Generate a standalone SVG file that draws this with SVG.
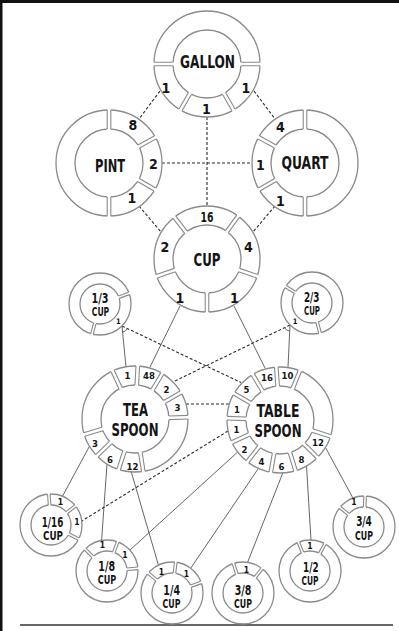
<svg xmlns="http://www.w3.org/2000/svg" xmlns:xlink="http://www.w3.org/1999/xlink" width="399" height="631" viewBox="0 0 399 631">
<style>
.ring{fill:#fff;stroke:#8a8a8a;stroke-width:1.3}
.sl{stroke:#8a8a8a;stroke-width:1.1;fill:none}
.t{font-family:"DejaVu Sans Condensed","DejaVu Sans",sans-serif;font-weight:bold;fill:#151515;text-anchor:middle}
.lbl{font-size:17.5px}
.n{font-size:14px}
.s{font-size:9.5px}
.f{font-size:14px}
.c{font-size:12px}
.x{font-size:8.5px}
.dash{stroke:#2a2a2a;stroke-width:1.1;stroke-dasharray:3 2;fill:none}
.ln{stroke:#555;stroke-width:0.9;fill:none}
</style>
<defs>
<g id="sepB"><rect x="33" y="-1.8" width="21.2" height="3.6" fill="#fff"/><path class="sl" d="M34,-1.8H53M34,1.8H53"/></g>
<g id="sepS"><rect x="19" y="-1.3" width="13.2" height="2.6" fill="#fff"/><path class="sl" d="M20,-1.3H31M20,1.3H31"/></g>
</defs>
<rect width="399" height="631" fill="#fff"/>
<path d="M0,1.5H399M1,0V631" stroke="#111" stroke-width="3"/>
<path d="M20,625H393" stroke="#333" stroke-width="1.5"/>

<g id="connectors">
<path class="dash" d="M160,91L139,119M254,91L275,119M207,117V206M162,163H252M139,206L161,232M275,206L253,232"/>
<path class="ln" d="M180,306L150,367M234,306L265,368"/>
<path class="ln" d="M122,326L126,367M290,325L288,367"/>
<path class="dash" d="M122,326L241,382.5M290,325L173,382M186,404H229"/>
<path class="ln" d="M122,332A6,6 0 0 0 127.3,328.7M289.7,331A6,6 0 0 1 284.6,327.6"/>
<path class="ln" d="M89.6,446L62.6,496M107,464L101.6,540.5M131.3,472L158.4,565M237.7,452L130,550M258.4,468.4L190.7,568.2M282.8,473L247.6,562.3M306.5,466L311,540M325.4,447.3L352.9,498"/>
<path class="dash" d="M228,431L81.8,521"/>
</g>

<g id="gallon">
<circle class="ring" cx="207" cy="64" r="53"/><circle class="ring" cx="207" cy="64" r="34"/>
<use xlink:href="#sepB" transform="translate(207 64) rotate(0)"/>
<use xlink:href="#sepB" transform="translate(207 64) rotate(60)"/>
<use xlink:href="#sepB" transform="translate(207 64) rotate(120)"/>
<use xlink:href="#sepB" transform="translate(207 64) rotate(180)"/>
<text class="t lbl" x="207.5" y="68" textLength="55" lengthAdjust="spacingAndGlyphs">GALLON</text>
<text class="t n" x="166" y="93">1</text><text class="t n" x="246" y="93">1</text><text class="t n" x="206.5" y="114">1</text>
</g>

<g id="pint">
<circle class="ring" cx="109" cy="163" r="53"/><circle class="ring" cx="109" cy="163" r="34"/>
<use xlink:href="#sepB" transform="translate(109 163) rotate(-90)"/>
<use xlink:href="#sepB" transform="translate(109 163) rotate(-29)"/>
<use xlink:href="#sepB" transform="translate(109 163) rotate(30)"/>
<use xlink:href="#sepB" transform="translate(109 163) rotate(90)"/>
<text class="t lbl" x="110" y="171.5" textLength="30" lengthAdjust="spacingAndGlyphs">PINT</text>
<text class="t n" x="133" y="130">8</text><text class="t n" x="153.5" y="169">2</text><text class="t n" x="132" y="203">1</text>
</g>

<g id="quart">
<circle class="ring" cx="305" cy="163" r="53"/><circle class="ring" cx="305" cy="163" r="34"/>
<use xlink:href="#sepB" transform="translate(305 163) rotate(-90)"/>
<use xlink:href="#sepB" transform="translate(305 163) rotate(-151)"/>
<use xlink:href="#sepB" transform="translate(305 163) rotate(150)"/>
<use xlink:href="#sepB" transform="translate(305 163) rotate(90)"/>
<text class="t lbl" x="305" y="168.5" textLength="47" lengthAdjust="spacingAndGlyphs">QUART</text>
<text class="t n" x="280.5" y="132">4</text><text class="t n" x="260.5" y="170">1</text><text class="t n" x="280.5" y="206">1</text>
</g>

<g id="cup">
<circle class="ring" cx="207" cy="259" r="53"/><circle class="ring" cx="207" cy="259" r="34"/>
<use xlink:href="#sepB" transform="translate(207 259) rotate(-128)"/>
<use xlink:href="#sepB" transform="translate(207 259) rotate(-54)"/>
<use xlink:href="#sepB" transform="translate(207 259) rotate(19)"/>
<use xlink:href="#sepB" transform="translate(207 259) rotate(90)"/>
<use xlink:href="#sepB" transform="translate(207 259) rotate(161)"/>
<text class="t lbl" x="207" y="266" textLength="27" lengthAdjust="spacingAndGlyphs">CUP</text>
<text class="t n" x="207" y="222" textLength="13" lengthAdjust="spacingAndGlyphs">16</text>
<text class="t n" x="165" y="252">2</text><text class="t n" x="248.5" y="252">4</text>
<text class="t n" x="180" y="303">1</text><text class="t n" x="234.5" y="303">1</text>
</g>

<g id="third-cup">
<circle class="ring" cx="100" cy="304" r="31"/><circle class="ring" cx="100" cy="304" r="20"/>
<use xlink:href="#sepS" transform="translate(100 304) rotate(-20)"/>
<use xlink:href="#sepS" transform="translate(100 304) rotate(105)"/>
<text class="t f" x="100" y="303" textLength="17" lengthAdjust="spacingAndGlyphs">1/3</text>
<text class="t c" x="100.5" y="315.5" textLength="17.5" lengthAdjust="spacingAndGlyphs">CUP</text>
<text class="t" style="font-size:7.5px" x="118.3" y="323.5">1</text>
</g>

<g id="two-thirds-cup">
<circle class="ring" cx="312" cy="303" r="31"/><circle class="ring" cx="312" cy="303" r="20"/>
<use xlink:href="#sepS" transform="translate(312 303) rotate(-148)"/>
<use xlink:href="#sepS" transform="translate(312 303) rotate(75)"/>
<text class="t f" x="311.7" y="302" textLength="15.5" lengthAdjust="spacingAndGlyphs">2/3</text>
<text class="t c" x="312" y="315" textLength="16" lengthAdjust="spacingAndGlyphs">CUP</text>
<text class="t" style="font-size:7.5px" x="295" y="324">1</text>
</g>

<g id="teaspoon">
<circle class="ring" cx="135" cy="419" r="53"/><circle class="ring" cx="135" cy="419" r="34"/>
<use xlink:href="#sepB" transform="translate(135 419) rotate(-115)"/>
<use xlink:href="#sepB" transform="translate(135 419) rotate(-87)"/>
<use xlink:href="#sepB" transform="translate(135 419) rotate(-59)"/>
<use xlink:href="#sepB" transform="translate(135 419) rotate(-30)"/>
<use xlink:href="#sepB" transform="translate(135 419) rotate(-2)"/>
<use xlink:href="#sepB" transform="translate(135 419) rotate(81)"/>
<use xlink:href="#sepB" transform="translate(135 419) rotate(108)"/>
<use xlink:href="#sepB" transform="translate(135 419) rotate(136)"/>
<use xlink:href="#sepB" transform="translate(135 419) rotate(163)"/>
<text class="t lbl" x="135.5" y="416" textLength="25" lengthAdjust="spacingAndGlyphs">TEA</text>
<text class="t lbl" x="135" y="436" textLength="47" lengthAdjust="spacingAndGlyphs">SPOON</text>
<text class="t s" x="127.5" y="379">1</text><text class="t s" x="149" y="379">48</text>
<text class="t s" x="166.5" y="392.5">2</text><text class="t s" x="177.5" y="410.5">3</text>
<text class="t s" x="95" y="447">3</text><text class="t s" x="110" y="463">6</text><text class="t s" x="132.5" y="470">12</text>
</g>

<g id="tablespoon">
<circle class="ring" cx="280" cy="420" r="53"/><circle class="ring" cx="280" cy="420" r="34"/>
<use xlink:href="#sepB" transform="translate(280 420) rotate(-68)"/>
<use xlink:href="#sepB" transform="translate(280 420) rotate(-94)"/>
<use xlink:href="#sepB" transform="translate(280 420) rotate(-121)"/>
<use xlink:href="#sepB" transform="translate(280 420) rotate(-150)"/>
<use xlink:href="#sepB" transform="translate(280 420) rotate(182)"/>
<use xlink:href="#sepB" transform="translate(280 420) rotate(155)"/>
<use xlink:href="#sepB" transform="translate(280 420) rotate(128)"/>
<use xlink:href="#sepB" transform="translate(280 420) rotate(100)"/>
<use xlink:href="#sepB" transform="translate(280 420) rotate(73)"/>
<use xlink:href="#sepB" transform="translate(280 420) rotate(45)"/>
<use xlink:href="#sepB" transform="translate(280 420) rotate(18)"/>
<text class="t lbl" x="278" y="417" textLength="43" lengthAdjust="spacingAndGlyphs">TABLE</text>
<text class="t lbl" x="278" y="437" textLength="47" lengthAdjust="spacingAndGlyphs">SPOON</text>
<text class="t s" x="267" y="380.5">16</text><text class="t s" x="287.5" y="379">10</text>
<text class="t s" x="246.5" y="392.5">5</text><text class="t s" x="237" y="412.5">1</text>
<text class="t s" x="236.5" y="433">1</text><text class="t s" x="244.5" y="452.5">2</text>
<text class="t s" x="261.5" y="464.5">4</text><text class="t s" x="281.5" y="469.5">6</text>
<text class="t s" x="301.5" y="462.5">8</text><text class="t s" x="318" y="445.5">12</text>
</g>

<g id="sixteenth-cup">
<circle class="ring" cx="51" cy="525" r="31"/><circle class="ring" cx="51" cy="525" r="20"/>
<use xlink:href="#sepS" transform="translate(51 525) rotate(-94)"/>
<use xlink:href="#sepS" transform="translate(51 525) rotate(-38)"/>
<use xlink:href="#sepS" transform="translate(51 525) rotate(27)"/>
<text class="t f" x="52.5" y="526.5" textLength="21.5" lengthAdjust="spacingAndGlyphs">1/16</text>
<text class="t c" x="53" y="540" textLength="20" lengthAdjust="spacingAndGlyphs">CUP</text>
<text class="t x" x="60.5" y="505.3">1</text><text class="t x" x="77" y="525.3">1</text>
</g>

<g id="eighth-cup">
<circle class="ring" cx="107" cy="571" r="31"/><circle class="ring" cx="107" cy="571" r="20"/>
<use xlink:href="#sepS" transform="translate(107 571) rotate(-135)"/>
<use xlink:href="#sepS" transform="translate(107 571) rotate(-70)"/>
<use xlink:href="#sepS" transform="translate(107 571) rotate(-5)"/>
<text class="t f" x="106.7" y="571" textLength="16.7" lengthAdjust="spacingAndGlyphs">1/8</text>
<text class="t c" x="107" y="583.5" textLength="18.5" lengthAdjust="spacingAndGlyphs">CUP</text>
<text class="t x" x="102.5" y="547.8">1</text><text class="t x" x="125" y="557.8">1</text>
</g>

<g id="quarter-cup">
<circle class="ring" cx="172" cy="593" r="31"/><circle class="ring" cx="172" cy="593" r="20"/>
<use xlink:href="#sepS" transform="translate(172 593) rotate(-140)"/>
<use xlink:href="#sepS" transform="translate(172 593) rotate(-83)"/>
<use xlink:href="#sepS" transform="translate(172 593) rotate(-20)"/>
<text class="t f" x="171.7" y="595" textLength="16.7" lengthAdjust="spacingAndGlyphs">1/4</text>
<text class="t c" x="171.5" y="608" textLength="18" lengthAdjust="spacingAndGlyphs">CUP</text>
<text class="t x" x="161.5" y="574.8">1</text><text class="t x" x="186.5" y="576.8">1</text>
</g>

<g id="three-eighths-cup">
<circle class="ring" cx="243" cy="593" r="31"/><circle class="ring" cx="243" cy="593" r="20"/>
<use xlink:href="#sepS" transform="translate(243 593) rotate(-108)"/>
<use xlink:href="#sepS" transform="translate(243 593) rotate(-52)"/>
<text class="t f" x="243" y="595" textLength="16.7" lengthAdjust="spacingAndGlyphs">3/8</text>
<text class="t c" x="243" y="608" textLength="18" lengthAdjust="spacingAndGlyphs">CUP</text>
<text class="t x" x="246.5" y="572.8">1</text>
</g>

<g id="half-cup">
<circle class="ring" cx="310" cy="571" r="31"/><circle class="ring" cx="310" cy="571" r="20"/>
<use xlink:href="#sepS" transform="translate(310 571) rotate(-112)"/>
<use xlink:href="#sepS" transform="translate(310 571) rotate(-61)"/>
<text class="t f" x="310.8" y="572" textLength="15.5" lengthAdjust="spacingAndGlyphs">1/2</text>
<text class="t c" x="310" y="584.5" textLength="17" lengthAdjust="spacingAndGlyphs">CUP</text>
<text class="t x" x="310" y="548.8">1</text>
</g>

<g id="three-quarters-cup">
<circle class="ring" cx="364" cy="527" r="31"/><circle class="ring" cx="364" cy="527" r="20"/>
<use xlink:href="#sepS" transform="translate(364 527) rotate(-141)"/>
<use xlink:href="#sepS" transform="translate(364 527) rotate(-88)"/>
<text class="t f" x="364" y="526" textLength="15.7" lengthAdjust="spacingAndGlyphs">3/4</text>
<text class="t c" x="364" y="540" textLength="18" lengthAdjust="spacingAndGlyphs">CUP</text>
<text class="t x" x="354" y="504.8">1</text>
</g>
</svg>
